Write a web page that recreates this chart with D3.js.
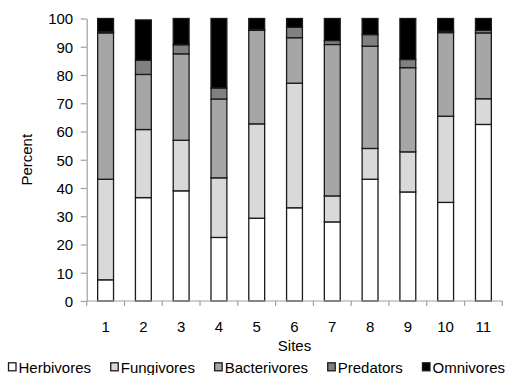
<!DOCTYPE html>
<html>
<head>
<meta charset="utf-8">
<script src="https://cdn.jsdelivr.net/npm/d3@7"></script>
<style>
  html, body { margin: 0; padding: 0; background: #fff; }
  svg { display: block; }
  text { font-family: "Liberation Sans", Arial, sans-serif; fill: #000; }
</style>
</head>
<body>
<svg id="chart" width="509" height="375"></svg>
<script>
// Sites along the x axis
const sites = ["1", "2", "3", "4", "5", "6", "7", "8", "9", "10", "11"];

// Percent of each feeding group per site (stacked bottom to top)
const herbivores   = [7.5, 36.6, 39.0, 22.5, 29.3, 33.0, 28.0, 43.1, 38.6, 34.9, 62.5];
const fungivores   = [35.6, 24.1, 17.9, 21.1, 33.4, 44.1, 9.2, 10.9, 14.2, 30.5, 9.1];
const bacterivores = [51.8, 19.5, 30.6, 27.9, 33.1, 16.1, 53.6, 36.2, 29.8, 29.6, 23.3];
const predators    = [0.4, 5.0, 3.2, 3.9, 0.4, 3.7, 1.4, 4.1, 2.9, 0.5, 0.9];
const omnivores    = [4.7, 14.3, 9.3, 24.6, 3.8, 3.1, 7.8, 5.7, 14.5, 4.5, 4.2];

const groupNames = ["Herbivores", "Fungivores", "Bacterivores", "Predators", "Omnivores"];
const groupColors = ["#ffffff", "#d9d9d9", "#a6a6a6", "#808080", "#000000"];

// Y axis tick values
const yTicks = [0, 10, 20, 30, 40, 50, 60, 70, 80, 90, 100];

const seriesValues = [herbivores, fungivores, bacterivores, predators, omnivores];
const rows = sites.map((s, i) => {
  const r = { site: s };
  groupNames.forEach((g, k) => { r[g] = seriesValues[k][i]; });
  return r;
});

const svg = d3.select("#chart");
const FS = 15;       // font size
const axisColor = "#a0a0a0";

const plotLeft = 86.7, plotRight = 502.3, plotTop = 18.5, plotBottom = 301;

const x = d3.scaleBand().domain(sites).range([plotLeft, plotRight])
  .paddingInner(0.58).paddingOuter(0.29);
const y = d3.scaleLinear().domain([0, 100]).range([plotBottom, plotTop]);

const stack = d3.stack().keys(groupNames);
const layers = stack(rows);

// Stacked bars
const barsG = svg.append("g");
layers.forEach((layer, k) => {
  barsG.append("g")
    .selectAll("rect")
    .data(layer)
    .join("rect")
    .attr("x", d => x(d.data.site))
    .attr("width", x.bandwidth())
    .attr("y", d => y(d[1]))
    .attr("height", d => y(d[0]) - y(d[1]))
    .attr("fill", groupColors[k])
    .attr("stroke", "#1a1a1a")
    .attr("stroke-width", 1.3);
});

// Y axis
const yAxis = svg.append("g")
  .attr("transform", `translate(${plotLeft},0)`)
  .call(d3.axisLeft(y).tickValues(yTicks).tickSize(6).tickSizeOuter(0).tickPadding(0));
yAxis.select(".domain").attr("stroke", axisColor).attr("stroke-width", 1.2);
yAxis.selectAll(".tick line").attr("stroke", axisColor).attr("stroke-width", 1.2);
yAxis.selectAll(".tick text")
  .attr("font-size", FS)
  .attr("font-family", "Liberation Sans, Arial, sans-serif")
  .attr("x", -13.5)
  .attr("dy", "0.36em");

// X axis: line with ticks on category boundaries
const xAxis = svg.append("g").attr("transform", `translate(0,${plotBottom})`);
xAxis.append("line")
  .attr("x1", plotLeft).attr("x2", plotRight)
  .attr("stroke", axisColor).attr("stroke-width", 1.2);
const boundaries = d3.range(sites.length + 1).map(i => plotLeft + i * x.step());
xAxis.selectAll("line.bt")
  .data(boundaries)
  .join("line")
  .attr("class", "bt")
  .attr("x1", d => d).attr("x2", d => d)
  .attr("y1", 0).attr("y2", 5)
  .attr("stroke", axisColor).attr("stroke-width", 1.2);
xAxis.selectAll("text")
  .data(sites)
  .join("text")
  .attr("x", d => x(d) + x.bandwidth() / 2)
  .attr("y", 30.5)
  .attr("text-anchor", "middle")
  .attr("font-size", FS)
  .text(d => d);

// Axis titles
svg.append("text")
  .attr("x", (plotLeft + plotRight) / 2)
  .attr("y", 351)
  .attr("text-anchor", "middle")
  .attr("font-size", FS)
  .text("Sites");

svg.append("text")
  .attr("transform", `translate(32,${(plotTop + plotBottom) / 2}) rotate(-90)`)
  .attr("text-anchor", "middle")
  .attr("font-size", FS)
  .text("Percent");

// Legend along the bottom
const legend = svg.append("g");
const items = legend.selectAll("g")
  .data(groupNames)
  .join("g");
items.append("rect")
  .attr("width", 7.5).attr("height", 8)
  .attr("y", 362.8)
  .attr("fill", (d, i) => groupColors[i])
  .attr("stroke", "#1a1a1a")
  .attr("stroke-width", 1.3);
const labels = items.append("text")
  .attr("font-size", FS)
  .text(d => d);

const sq = 10;
const widths = labels.nodes().map(n => n.getComputedTextLength());
const legStart = 8.5, legEnd = 505;
const used = d3.sum(widths) + sq * groupNames.length;
const gap = (legEnd - legStart - used) / (groupNames.length - 1);
let cx = legStart;
items.each(function (d, i) {
  d3.select(this).attr("transform", `translate(${cx},0)`);
  d3.select(this).select("text")
    .attr("x", sq)
    .attr("y", 372.5);
  cx += sq + widths[i] + gap;
});
</script>
</body>
</html>
